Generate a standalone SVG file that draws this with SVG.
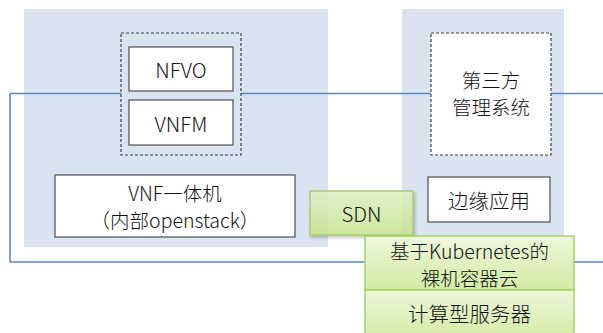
<svg xmlns="http://www.w3.org/2000/svg" width="603" height="333" viewBox="0 0 603 333">
<defs>
<linearGradient id="g" x1="0" y1="0" x2="0" y2="1">
<stop offset="0" stop-color="#EEF7DC"/>
<stop offset="1" stop-color="#D3EBA3"/>
</linearGradient>
<linearGradient id="g2" x1="0" y1="0" x2="0" y2="1">
<stop offset="0" stop-color="#E4F3C6"/>
<stop offset="1" stop-color="#C9E88E"/>
</linearGradient>
<filter id="sh" x="-10%" y="-10%" width="130%" height="140%">
<feDropShadow dx="1.5" dy="2" stdDeviation="1.5" flood-color="#000" flood-opacity="0.25"/>
</filter>
</defs>
<style>
.panel{fill:#DAE3F0}
.box{fill:#fff;stroke:#595959;stroke-width:1.3}
.dash{stroke:#404040;stroke-width:1.2;stroke-dasharray:3 2}
.net{fill:none;stroke:#5A87C6;stroke-width:1.6}
.green{stroke:#A8CF6A;stroke-width:1.5}
text{font-family:"Noto Sans CJK SC","Noto Sans",sans-serif;font-size:20.5px;font-weight:300;fill:#111;text-anchor:middle;dominant-baseline:central}
.two{font-size:19.5px}
</style>
<rect width="603" height="333" fill="#fff"/>
<g id="panel-left"><rect class="panel" x="24" y="9" width="304" height="238"/></g>
<g id="panel-right"><rect class="panel" x="402" y="9" width="162" height="228"/></g>
<g id="connectors">
<path class="net" d="M10,93.5 H121 M241,93.5 H431 M551,93.5 H603 M10,93.5 V262 H603"/>
</g>
<g id="mgmt-group"><rect fill="none" class="dash" x="121" y="33" width="120" height="122"/></g>
<g id="nfvo"><rect class="box" x="129" y="47" width="104" height="44"/><text x="181" y="69">NFVO</text></g>
<g id="vnfm"><rect class="box" x="129" y="100" width="104" height="45"/><text x="181" y="122.5">VNFM</text></g>
<g id="third-party"><rect fill="#fff" class="dash" x="431" y="33" width="120" height="122"/><text class="two" x="491" y="79">第三方</text><text class="two" x="491" y="106">管理系统</text></g>
<g id="vnf"><rect class="box" x="55" y="175" width="240" height="62"/><text class="two" x="175" y="192.5">VNF一体机</text><text class="two" x="175" y="219.5">（内部openstack）</text></g>
<g id="edge-app"><rect class="box" x="428" y="177" width="122" height="45"/><text x="489" y="199.5">边缘应用</text></g>
<g id="sdn"><rect x="310" y="191" width="103" height="44" fill="url(#g2)" fill-opacity="0.8" class="green" filter="url(#sh)"/><text x="361.5" y="213">SDN</text></g>
<g id="k8s"><rect x="365" y="236" width="209" height="54" fill="url(#g)" class="green"/><text class="two" x="469.5" y="250.5">基于Kubernetes的</text><text class="two" x="469.5" y="277">裸机容器云</text></g>
<g id="server"><rect x="365" y="290" width="209" height="50" fill="url(#g)" class="green"/><text x="469.5" y="313">计算型服务器</text></g>
</svg>
